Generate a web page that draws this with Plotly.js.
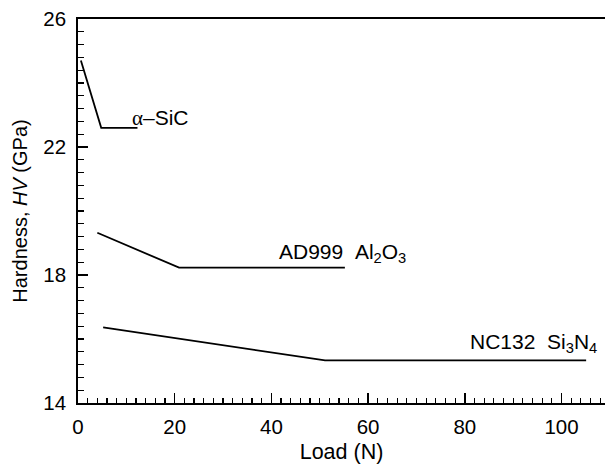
<!DOCTYPE html>
<html>
<head>
<meta charset="utf-8">
<script src="https://cdn.plot.ly/plotly-3.0.1.min.js"></script>
<style>html,body{margin:0;padding:0;background:#fff;}#chart{width:605px;height:464px;}</style>
</head>
<body>
<div id="chart"></div>
<script>
// Data
const sicLoad = [0.6, 4.8, 12.3];
const sicHV = [24.7, 22.6, 22.6];
const aloLoad = [4.0, 20.9, 55.2];
const aloHV = [19.32, 18.23, 18.23];
const sinLoad = [5.2, 51.1, 105.1];
const sinHV = [16.36, 15.33, 15.33];

const labelText = ['<span style="font-family:Liberation Serif">α</span>–SiC', 'AD999\u00A0\u00A0Al<sub>2</sub>O<sub>3</sub>', 'NC132\u00A0\u00A0Si<sub>3</sub>N<sub>4</sub>'];
const labelX = [10.7, 41.2, 107.7];
const labelY = [22.9, 18.68, 15.87];
const labelAnchor = ['left', 'left', 'right'];

const xTickVals = [0, 20, 40, 60, 80, 100];
const yTickVals = [14, 18, 22, 26];

const lineStyle = {color: 'black', width: 1.8};
const traces = [
  {x: sicLoad, y: sicHV, mode: 'lines', line: lineStyle, hoverinfo: 'skip'},
  {x: aloLoad, y: aloHV, mode: 'lines', line: lineStyle, hoverinfo: 'skip'},
  {x: sinLoad, y: sinHV, mode: 'lines', line: lineStyle, hoverinfo: 'skip'}
];

const annotations = labelText.map((t, i) => ({
  x: labelX[i], y: labelY[i], xref: 'x', yref: 'y', text: t,
  showarrow: false, xanchor: labelAnchor[i], yanchor: 'middle',
  font: {family: 'Liberation Sans, Arial, sans-serif', size: 21, color: 'black'}
}));

const layout = {
  width: 605, height: 464,
  margin: {l: 78, r: 0, t: 19, b: 61, pad: 0},
  paper_bgcolor: 'white', plot_bgcolor: 'white',
  showlegend: false,
  font: {family: 'Liberation Sans, Arial, sans-serif', color: 'black', size: 20.5},
  xaxis: {
    range: [0, 109], showgrid: false, zeroline: false,
    showline: true, linecolor: 'black', linewidth: 1.8, mirror: true,
    ticks: 'inside', ticklen: 10, tickwidth: 1.5, tickcolor: 'black',
    tickmode: 'array', tickvals: xTickVals,
    ticklabelstandoff: 5,
    minor: {dtick: 2, tick0: 0, ticks: 'inside', ticklen: 5, tickwidth: 1.2, tickcolor: 'black', showgrid: false},
    title: {text: 'Load (N)', font: {size: 21.5}, standoff: 6},
    automargin: false, fixedrange: true
  },
  yaxis: {
    range: [14, 26], showgrid: false, zeroline: false,
    showline: true, linecolor: 'black', linewidth: 1.8,
    ticks: 'inside', ticklen: 10, tickwidth: 1.5, tickcolor: 'black',
    tickmode: 'array', tickvals: yTickVals,
    ticklabelstandoff: 6,
    minor: {dtick: 0.4, tick0: 14, ticks: 'inside', ticklen: 6, tickwidth: 1.2, tickcolor: 'black', showgrid: false},
    title: {text: 'Hardness, <i>HV</i> (GPa)', font: {size: 20}, standoff: 10},
    automargin: false, fixedrange: true
  },
  annotations: annotations
};

Plotly.newPlot('chart', traces, layout, {staticPlot: true, displayModeBar: false});
</script>
</body>
</html>
